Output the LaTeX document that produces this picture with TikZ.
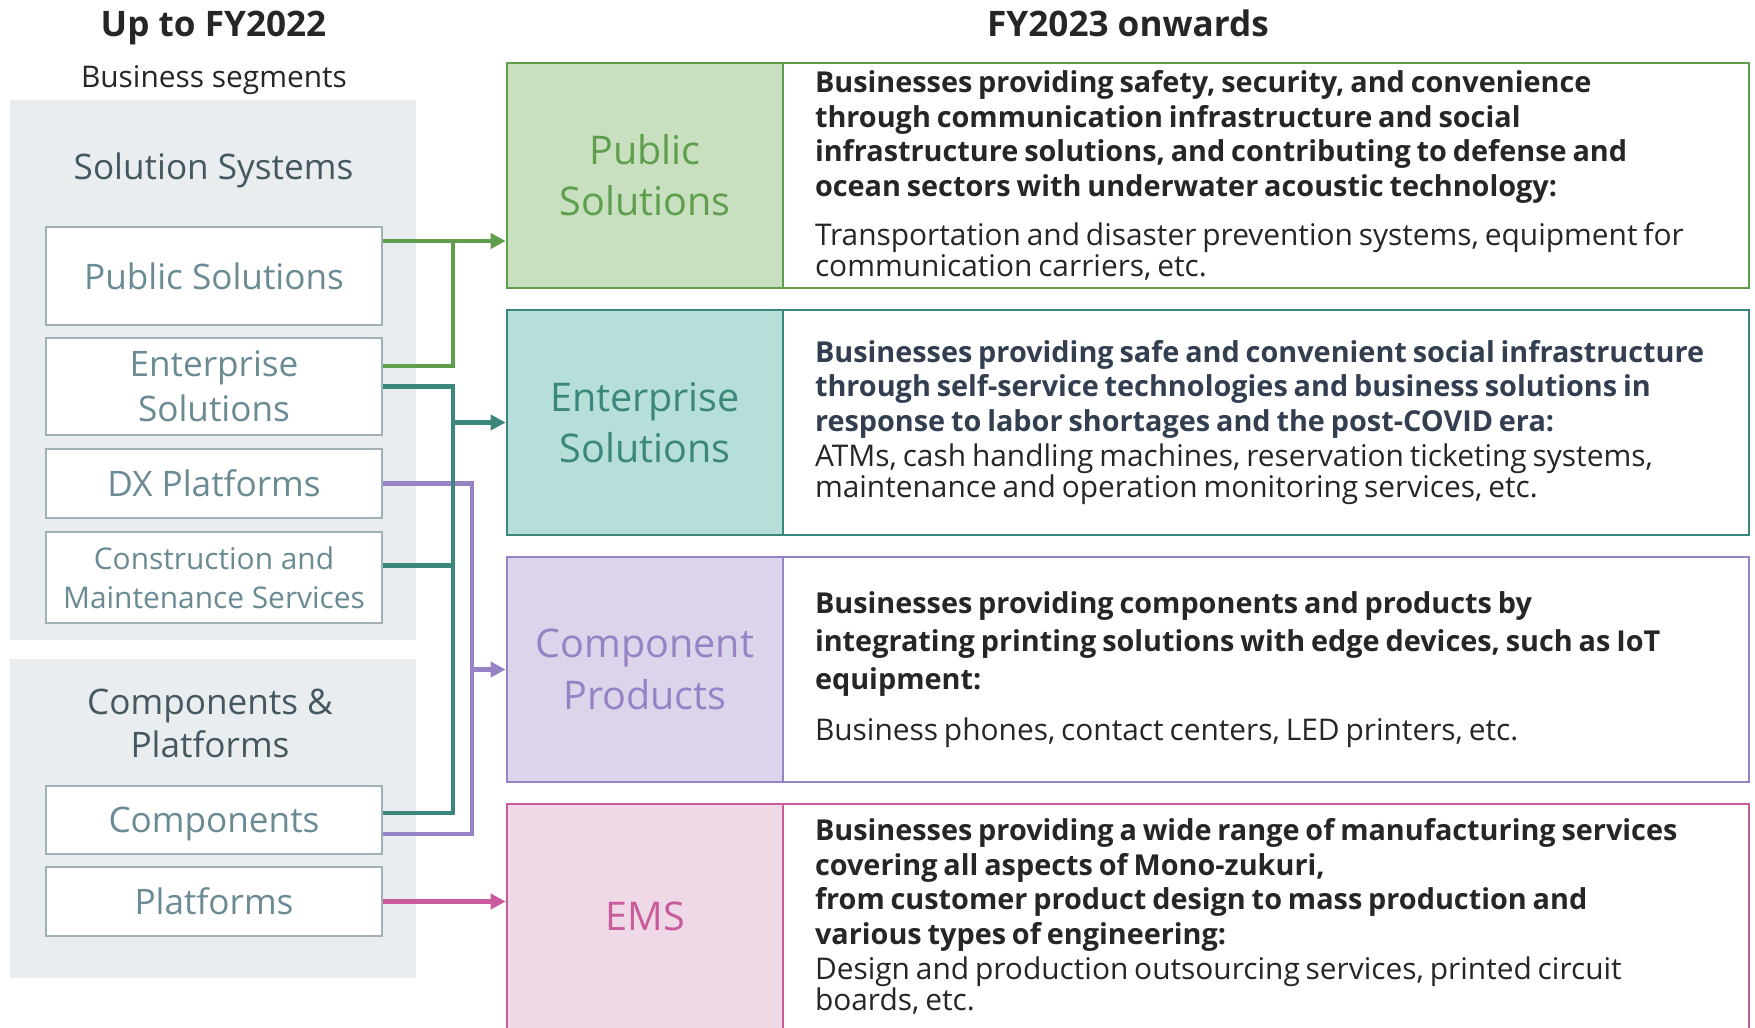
\documentclass[tikz,border=0pt]{standalone}
\usepackage{fontspec}
\setmainfont{Open Sans}
\usepackage{tikz}
\usetikzlibrary{shapes.geometric, arrows, arrows.meta}

\definecolor{head}{HTML}{262626}
\definecolor{navy}{HTML}{333F50}
\definecolor{panelbg}{HTML}{E9EDF0}
\definecolor{segline}{HTML}{A0B1B6}
\definecolor{segtext}{HTML}{6A8B93}
\definecolor{ptitle}{HTML}{45585F}
\definecolor{grn}{HTML}{5E9E4C}
\definecolor{grnbg}{HTML}{C9E0C0}
\definecolor{tea}{HTML}{3C877B}
\definecolor{teabg}{HTML}{B6DFD9}
\definecolor{prp}{HTML}{9683C6}
\definecolor{prpbg}{HTML}{DCD4EA}
\definecolor{pnk}{HTML}{C95B9D}
\definecolor{pnkbg}{HTML}{F0D9E6}

\newcommand{\descbf}{\fontsize{16.4}{19.7}\selectfont\bfseries}
\newcommand{\descrm}{\fontsize{17}{19.7}\selectfont\mdseries}

\tikzstyle{panel} = [fill=panelbg, rectangle, minimum width=8.12cm, inner sep=0pt]
\tikzstyle{seg} = [draw=segline, line width=1.3pt, fill=white, rectangle, text=segtext,
    minimum width=6.72cm, align=center, text depth=0pt, font=\fontsize{20}{25.6}\selectfont]
\tikzstyle{title} = [draw, rectangle, line width=1.5pt, minimum width=5.52cm,
    minimum height=4.5cm, align=center, font=\fontsize{22.5}{29.2}\selectfont]
\tikzstyle{desc} = [draw, fill=white, rectangle, line width=1.5pt, minimum width=19.32cm,
    minimum height=4.5cm, text width=18.04cm, inner xsep=0.64cm, align=left, text=head]
\tikzstyle{link} = [line width=2.3pt]
\tikzstyle{arr} = [line width=2.3pt, -{Triangle[length=0.3cm, width=0.3cm]}]

\begin{document}
\begin{tikzpicture}[node distance=2cm]
    \useasboundingbox (0,0) rectangle (35.1,-20.54);

    \node [anchor=base, text=head, font=\bfseries\fontsize{20}{24}\selectfont] (old) at (4.27,-0.73) {Up to FY2022};
    \node [anchor=base, text=head, font=\bfseries\fontsize{20}{24}\selectfont] (new) at (22.56,-0.73) {FY2023 onwards};
    \node [anchor=base, text=head, font=\fontsize{17}{20}\selectfont] (segs) at (4.28,-1.74) {Business segments};

    \node [panel, minimum height=10.8cm] (p1) at (4.26,-7.4) {};
    \node [panel, minimum height=6.38cm] (p2) at (4.26,-16.37) {};
    \node [anchor=base, text=ptitle, font=\fontsize{20}{24}\selectfont] (sol) at (4.27,-3.58) {Solution Systems};
    \node [text=ptitle, align=center, font=\fontsize{20}{24.5}\selectfont] (cap) at (4.2,-14.47) {Components \&\\Platforms};

    \node [seg, minimum height=1.96cm] (ps) at (4.28,-5.52) {Public Solutions};
    \node [seg, minimum height=1.94cm, below of=ps, node distance=2.21cm] (es) {Enterprise\\Solutions};
    \node [seg, minimum height=1.38cm, below of=es, node distance=1.94cm] (dx) {DX Platforms};
    \node [seg, minimum height=1.82cm, below of=dx, node distance=1.88cm, font=\fontsize{17}{22.2}\selectfont] (cms) {Construction and\\Maintenance Services};
    \node [seg, minimum height=1.36cm, below of=cms, node distance=4.85cm] (comp) {Components};
    \node [seg, minimum height=1.38cm, below of=comp, node distance=1.63cm] (plat) {Platforms};

    \node [title, draw=grn, fill=grnbg, text=grn] (pub) at (12.90,-3.51) {Public\\Solutions};
    \node [desc, draw=grn, right of=pub, node distance=12.42cm] (dpub) {\descbf Businesses providing safety, security, and convenience\\through communication infrastructure and social\\infrastructure solutions, and contributing to defense and\\ocean sectors with underwater acoustic technology:\\[0.29cm]\descrm Transportation and disaster prevention systems, equipment for\\communication carriers, etc.};

    \node [title, draw=tea, fill=teabg, text=tea, below of=pub, node distance=4.94cm] (ent) {Enterprise\\Solutions};
    \node [desc, draw=tea, right of=ent, node distance=12.42cm] (dent) {\color{navy}\descbf Businesses providing safe and convenient social infrastructure\\through self-service technologies and business solutions in\\response to labor shortages and the post-COVID era:\\\color{head}\descrm ATMs, cash handling machines, reservation ticketing systems,\\maintenance and operation monitoring services, etc.};

    \node [title, draw=prp, fill=prpbg, text=prp, below of=ent, node distance=4.94cm] (cmp) {Component\\Products};
    \node [desc, draw=prp, right of=cmp, node distance=12.42cm] (dcmp) {\descbf Businesses providing components and products by\\[0.07cm]integrating printing solutions with edge devices, such as IoT\\[0.07cm]equipment:\\[0.4cm]\descrm Business phones, contact centers, LED printers, etc.};

    \node [title, draw=pnk, fill=pnkbg, text=pnk, below of=cmp, node distance=4.94cm] (ems) {EMS};
    \node [desc, draw=pnk, right of=ems, node distance=12.42cm] (dems) {\descbf Businesses providing a wide range of manufacturing services\\covering all aspects of Mono-zukuri,\\from customer product design to mass production and\\various types of engineering:\\\descrm Design and production outsourcing services, printed circuit\\boards, etc.};

    \coordinate (bus) at (9.06,0);
    \coordinate (pbus) at (9.44,0);
    \coordinate (g1) at ([yshift=0.7cm]ps.east);
    \coordinate (g2) at ([yshift=0.41cm]es.east);
    \coordinate (t2) at ([yshift=0.24cm]cms.east);
    \coordinate (t3) at ([yshift=0.14cm]comp.east);
    \coordinate (v3) at ([yshift=-0.28cm]comp.east);

    \draw [arr, grn] (g1) -- (g1 -| pub.west);
    \draw [link, grn] (g2) -| (bus |- g1);
    \draw [link, prp] (dx.east) -| (pbus |- v3) -- (v3);
    \draw [arr, prp] (pbus |- cmp.west) -- (cmp.west);
    \draw [link, tea] (es.east) -| (bus |- t3) -- (t3);
    \draw [link, tea] (t2) -- (bus |- t2);
    \draw [arr, tea] (bus |- ent.west) -- (ent.west);
    \draw [arr, pnk] (plat.east) -- (plat.east -| ems.west);

\end{tikzpicture}
\end{document}
